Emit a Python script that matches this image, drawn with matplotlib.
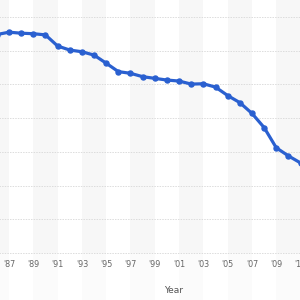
import numpy as np
import matplotlib
matplotlib.use("Agg")
import matplotlib.pyplot as plt

# values (y axis labels are cropped away, units arbitrary)
years = [1986, 1987, 1988, 1989, 1990, 1991, 1992, 1993, 1994, 1995, 1996,
         1997, 1998, 1999, 2000, 2001, 2002, 2003, 2004, 2005, 2006, 2007,
         2008, 2009, 2010, 2011]
values = [64.8, 65.5, 65.2, 65.05, 64.7, 61.4, 60.2, 59.7, 58.7, 56.3, 53.8,
          53.3, 52.3, 51.8, 51.3, 51.0, 50.1, 50.2, 49.2, 46.7, 44.6, 41.4,
          37.2, 31.2, 28.8, 26.7]
tick_years = [1987, 1989, 1991, 1993, 1995, 1997, 1999, 2001, 2003,
              2005, 2007, 2009, 2011]
tick_labels = ["'87", "'89", "'91", "'93", "'95", "'97", "'99", "'01",
               "'03", "'05", "'07", "'09", "'11"]
grid_vals = [0, 10, 20, 30, 40, 50, 60, 70]

fig = plt.figure(figsize=(3, 3), dpi=100)
fig.patch.set_facecolor('white')

# axes is wider than the figure: the reference is a crop of a bigger chart
ax = fig.add_axes([-0.1, 0.1343, 1.2, 0.8657])
ax.set_xlim(1983.79, 2013.42)
ax.set_ylim(-2, 75.05)

# alternating light bands, fainter below the axis
for x0 in range(1985, 2013, 4):
    ax.axvspan(x0, x0 + 2, ymin=0.026, ymax=1, color='#f7f7f7', lw=0, zorder=0)
    ax.axvspan(x0, x0 + 2, ymin=-0.2, ymax=0.026, color='#fbfbfb', lw=0,
               zorder=0, clip_on=False)

for g in grid_vals:
    ax.axhline(g, color='#dcdcdc', lw=0.7, ls=(0, (1.5, 1.2)), zorder=1)

ax.plot(years, values, color='#2a60d0', lw=2.3, marker='o', ms=3.6,
        solid_capstyle='round', zorder=3)

ax.set_xticks(tick_years)
ax.set_xticklabels(tick_labels, color='#666666', fontsize=5.8)
ax.tick_params(axis='x', length=0, pad=0)
ax.set_yticks([])
for s in ax.spines.values():
    s.set_visible(False)

fig.text(0.577, 0.033, 'Year', color='#555555', fontsize=6.5, ha='center', va='center')

fig.savefig('out.png', dpi=100)
